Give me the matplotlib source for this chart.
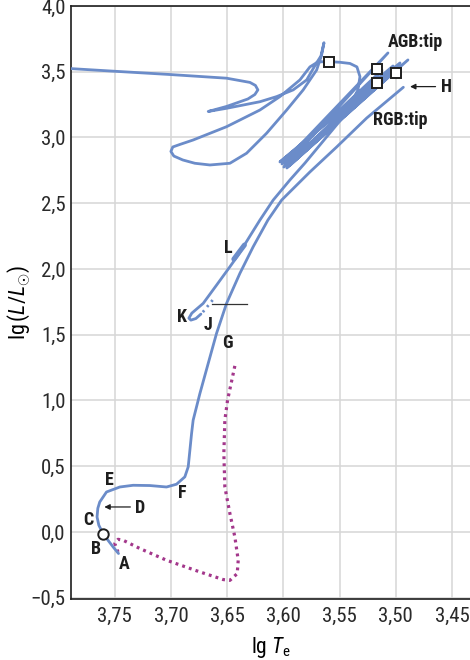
import numpy as np
import matplotlib
matplotlib.use("Agg")
import matplotlib.pyplot as plt
from matplotlib import font_manager as fm
from matplotlib.ticker import FuncFormatter

BLUE = "#6B8CC9"
PURPLE = "#A3378B"
INK = "#1E1E1E"


def _pick_font():
    # prefer a condensed face, like the original artwork
    for fam, stretch in [("Liberation Sans Narrow", "normal"),
                         ("Roboto Condensed", "normal"),
                         ("DejaVu Sans", "condensed")]:
        try:
            path = fm.findfont(fm.FontProperties(family=fam, stretch=stretch),
                               fallback_to_default=False)
        except Exception:
            continue
        if "Narrow" in path or "Condensed" in path:
            return fam, stretch
    return "DejaVu Sans", "normal"


FAM, STRETCH = _pick_font()
plt.rcParams.update({
    "font.family": [FAM, "DejaVu Sans"],
    "font.stretch": STRETCH,
    "mathtext.fontset": "custom",
    "mathtext.rm": FAM,
    "mathtext.it": f"{FAM}:italic",
    "text.color": INK,
})

# ── data (lg Te, lg L/Lsun) ─────────────────────────────────
# main sequence -> subgiant -> red giant branch
rgb_te = [3.7467, 3.7515, 3.7601, 3.7642, 3.7658, 3.7651, 3.7634, 3.7574,
          3.7455, 3.7337, 3.7188, 3.7040, 3.6951, 3.6877, 3.6847, 3.6832,
          3.6817, 3.6803, 3.6743, 3.6669, 3.6595, 3.6506, 3.6387, 3.6269,
          3.6138, 3.6016, 3.5764, 3.5526, 3.5259, 3.4933]
rgb_l = [-0.164, -0.114, -0.018, 0.051, 0.114, 0.180, 0.228, 0.304,
         0.342, 0.355, 0.353, 0.342, 0.363, 0.419, 0.495, 0.622,
         0.749, 0.850, 1.053, 1.282, 1.510, 1.738, 1.967, 2.169,
         2.372, 2.524, 2.738, 2.928, 3.148, 3.382]

# horizontal branch (K) -> early AGB -> thermal pulses
agb_te = [3.6734, 3.6779, 3.6823, 3.6841, 3.6815, 3.6714, 3.6595, 3.6476,
          3.6402, 3.6298, 3.6209, 3.6091, 3.5942, 3.5808,
          3.5123, 3.6013, 3.5070, 3.5996, 3.5025, 3.6031, 3.4963, 3.5969,
          3.4892, 3.5987, 3.4998, 3.5951, 3.5052, 3.5924,
          3.5408, 3.5337, 3.5319, 3.5346, 3.5408, 3.5497, 3.5595]
agb_l = [1.657, 1.623, 1.611, 1.626, 1.664, 1.738, 1.877, 2.017,
         2.106, 2.250, 2.372, 2.524, 2.677, 2.806,
         3.512, 2.799, 3.643, 2.775, 3.544, 2.814, 3.567, 2.768,
         3.590, 2.791, 3.512, 2.783, 3.475, 2.814,
         3.247, 3.361, 3.463, 3.537, 3.563, 3.572, 3.577]

# post-AGB loops, from the square leftwards
post_te = [3.5595, 3.5693, 3.5764, 3.5853, 3.6031, 3.6209, 3.6506, 3.6803,
           3.6921, 3.6984, 3.7001, 3.6975, 3.6895, 3.6788, 3.6654, 3.6476,
           3.6328, 3.6150, 3.5971, 3.5824, 3.5704, 3.5660, 3.5639, 3.5666,
           3.5711, 3.5793, 3.5913, 3.6060, 3.6209, 3.6506, 3.6669, 3.6506,
           3.6316, 3.6254, 3.6227, 3.6249, 3.6298, 3.6506, 3.7010, 3.7545,
           3.7990]
post_l = [3.577, 3.575, 3.537, 3.438, 3.311, 3.209, 3.082, 2.981,
          2.947, 2.928, 2.894, 2.859, 2.829, 2.804, 2.791, 2.804,
          2.880, 3.032, 3.209, 3.362, 3.514, 3.628, 3.721, 3.620,
          3.559, 3.438, 3.362, 3.311, 3.272, 3.222, 3.198, 3.236,
          3.293, 3.327, 3.362, 3.396, 3.419, 3.451, 3.479, 3.506,
          3.529]

hb_dot_te = [3.6717, 3.6610]
hb_dot_l = [1.672, 1.784]

l_mark_te = [3.6441, 3.6347]
l_mark_l = [2.075, 2.182]

# pre-main-sequence track (dotted)
pms_te = [3.6432, 3.6497, 3.6521, 3.6530, 3.6521, 3.6476, 3.6432, 3.6402,
          3.6411, 3.6476, 3.6536, 3.6743, 3.7040, 3.7277, 3.7426, 3.7471,
          3.7500, 3.7485, 3.7471]
pms_l = [1.263, 1.002, 0.850, 0.597, 0.342, 0.140, -0.038, -0.215,
         -0.317, -0.368, -0.362, -0.304, -0.215, -0.126, -0.063, -0.056,
         -0.088, -0.126, -0.152]

sq_te = [3.5595, 3.5170, 3.5170, 3.5001]
sq_l = [3.577, 3.521, 3.412, 3.489]
zams_te, zams_l = 3.7601, -0.018

letters = ["A", "B", "C", "D", "E", "F", "G", "J", "K", "L", "H"]
letter_te = [3.7417, 3.7663, 3.7738, 3.7277, 3.7545, 3.6897, 3.6497,
             3.6669, 3.6906, 3.6491, 3.4547]
letter_l = [-0.246, -0.126, 0.094, 0.183, 0.393, 0.297, 1.434,
            1.573, 1.636, 2.157, 3.387]

x_ticks = [3.75, 3.70, 3.65, 3.60, 3.55, 3.50, 3.45]
y_ticks = [-0.5, 0.0, 0.5, 1.0, 1.5, 2.0, 2.5, 3.0, 3.5, 4.0]


def _fmt(nd):
    def f(v, pos=None):
        return f"{v:.{nd}f}".replace(".", ",").replace("-", "\u2212")
    return FuncFormatter(f)


fig = plt.figure(figsize=(4.7, 6.6), dpi=100)
ax = fig.add_axes([0.151, 0.0924, 0.849, 0.8985])

ax.plot(pms_te, pms_l, color=PURPLE, lw=2.3, ls=(0, (0.9, 1.3)),
        dash_capstyle="butt", zorder=2)
ax.plot(rgb_te, rgb_l, color=BLUE, lw=2.0, solid_capstyle="round",
        solid_joinstyle="round", zorder=3)
ax.plot(agb_te, agb_l, color=BLUE, lw=2.0, solid_capstyle="round",
        solid_joinstyle="round", zorder=3)
ax.plot(post_te, post_l, color=BLUE, lw=2.0, solid_joinstyle="round",
        zorder=3)
ax.plot(hb_dot_te, hb_dot_l, color=BLUE, lw=2.0, ls=(0, (0.8, 1.6)),
        zorder=3)
ax.plot(l_mark_te, l_mark_l, color=BLUE, lw=3.6, solid_capstyle="round",
        zorder=3)
ax.plot([3.6639, 3.6328], [1.735, 1.735], color="#333333", lw=0.9, zorder=4)

ax.plot(sq_te, sq_l, ls="none", marker="s", ms=7.5, mfc="white",
        mec=INK, mew=1.4, zorder=5)
ax.plot([zams_te], [zams_l], ls="none", marker="o", ms=7.5, mfc="white",
        mec=INK, mew=1.4, zorder=5)

for s, xv, yv in zip(letters, letter_te, letter_l):
    ax.text(xv, yv, s, fontsize=13, fontweight="bold", ha="center",
            va="center", zorder=6)

ax.annotate("", xy=(3.7618, 0.190), xytext=(3.7337, 0.190),
            arrowprops=dict(arrowstyle="-|>", color=INK, lw=0.9,
                            mutation_scale=8), zorder=6)
ax.annotate("", xy=(3.4898, 3.387), xytext=(3.4622, 3.387),
            arrowprops=dict(arrowstyle="-|>", color=INK, lw=0.9,
                            mutation_scale=8), zorder=6)
ax.text(3.4829, 3.729, "AGB:tip", fontsize=13, fontweight="bold",
        ha="center", va="center")
ax.text(3.4963, 3.133, "RGB:tip", fontsize=13, fontweight="bold",
        ha="center", va="center")

ax.set_xlim(3.789, 3.434)
ax.set_ylim(-0.51, 4.0)
ax.set_xticks(x_ticks)
ax.set_yticks(y_ticks)
ax.xaxis.set_major_formatter(_fmt(2))
ax.yaxis.set_major_formatter(_fmt(1))
ax.tick_params(length=0, labelsize=15, labelcolor="#2A2A2A")
ax.tick_params(axis="y", pad=4)
ax.tick_params(axis="x", pad=6)
ax.grid(True, color="#D6D6D6", lw=1.1)
ax.set_axisbelow(True)
ax.spines["right"].set_visible(False)
for side in ("left", "top", "bottom"):
    ax.spines[side].set_color(INK)
    ax.spines[side].set_linewidth(1.2)

ax.set_xlabel(r"lg $T_{\mathrm{e}}$", fontsize=15.5, labelpad=6)
ax.set_ylabel(r"lg$\,(L/L_{\odot})$", fontsize=16)
ax.yaxis.set_label_coords(-0.098, 0.5)

fig.savefig("out.png", dpi=100, facecolor="white")
